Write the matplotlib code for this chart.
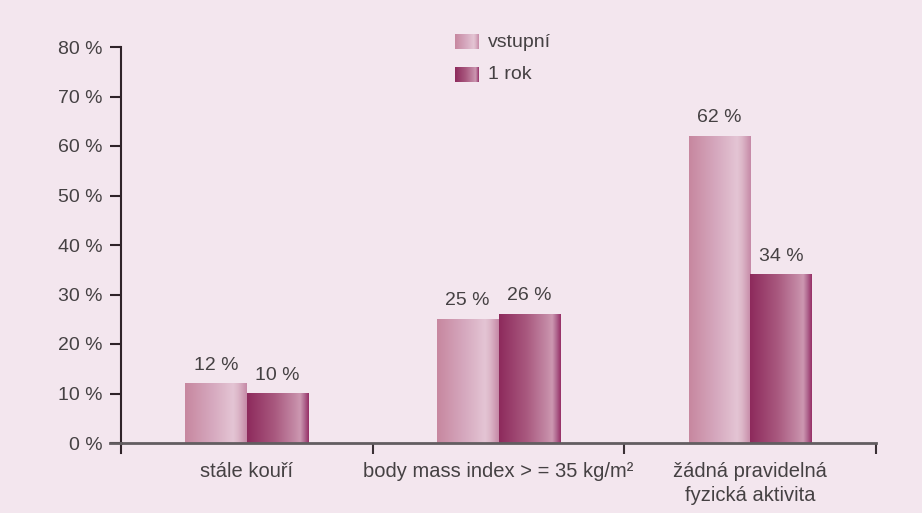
import numpy as np
import matplotlib.pyplot as plt
from matplotlib.colors import to_rgb

# data
categories = ['stále kouří', 'body mass index > = 35 kg/m²', 'žádná pravidelná\nfyzická aktivita']
series_names = ['vstupní', '1 rok']
vstupni = [12, 25, 62]
rok1 = [10, 26, 34]
y_ticks = [0, 10, 20, 30, 40, 50, 60, 70, 80]

BG = '#f3e6ee'
TXT = '#454143'
FS = 14

# gradient stops (position across bar, colour)
grad_light = [(0.0, '#c7879f'), (0.45, '#d6a9bf'), (0.78, '#e4c5d4'), (0.86, '#dcb6c8'), (1.0, '#c68aa7')]
grad_dark = [(0.0, '#8d2a5c'), (0.45, '#a9597f'), (0.78, '#c48aa6'), (0.86, '#cd98b1'), (0.93, '#b06890'), (1.0, '#962f66')]


def gradient(stops, n=200):
    pos = np.array([s[0] for s in stops])
    cols = np.array([to_rgb(s[1]) for s in stops])
    t = np.linspace(0, 1, n)
    rgb = np.stack([np.interp(t, pos, cols[:, i]) for i in range(3)], axis=-1)
    return rgb[np.newaxis, :, :]


def grad_bar(ax, x0, x1, y0, y1, stops, **kw):
    ax.imshow(gradient(stops), extent=(x0, x1, y0, y1), aspect='auto',
              interpolation='bilinear', zorder=2, **kw)


fig = plt.figure(figsize=(9.22, 5.13), dpi=100)
fig.patch.set_facecolor(BG)
plt.rcParams['font.family'] = ['Liberation Sans', 'DejaVu Sans']
ax = fig.add_axes([121 / 922, 1 - 443 / 513, (876 - 121) / 922, (443 - 47) / 513])
ax.set_facecolor(BG)

w = 0.245
for i, (a, b) in enumerate(zip(vstupni, rok1)):
    c = i + 0.5
    grad_bar(ax, c - w, c, 0, a, grad_light)
    grad_bar(ax, c, c + w, 0, b, grad_dark)
    ax.text(c - w / 2, a + 2.0, f'{a} %', ha='center', va='bottom', fontsize=FS, color=TXT)
    ax.text(c + w / 2, b + 2.0, f'{b} %', ha='center', va='bottom', fontsize=FS, color=TXT)

ax.set_xlim(0, 3)
ax.set_ylim(0, 80)

# axes styling
for s in ['top', 'right']:
    ax.spines[s].set_visible(False)
ax.spines['left'].set_color('#2f2329')
ax.spines['left'].set_linewidth(1.5)
ax.spines['left'].set_bounds(-2, 80)
ax.spines['bottom'].set_color('#625d60')
ax.spines['bottom'].set_linewidth(2)
ax.spines['bottom'].set_position(('data', 0))

ax.set_yticks(y_ticks)
ax.set_yticklabels([f'{t} %' for t in y_ticks], fontsize=FS, color=TXT)
ax.tick_params(axis='y', direction='out', length=8, width=1.5, color='#2f2329', pad=5)

ax.set_xticks([1, 2, 3])
ax.set_xticklabels([])
ax.tick_params(axis='x', direction='out', length=8, width=1.5, color='#3a3035')
ax.set_xticks([0.5, 1.5, 2.5], minor=True)
ax.set_xticklabels(categories, minor=True, fontsize=14.5, color=TXT, va='top', linespacing=1.3)
ax.tick_params(axis='x', which='minor', length=0, pad=14)

# y axis extends a little left of zero line
ax.plot([-0.045, 0], [0, 0], color='#625d60', lw=2, clip_on=False, zorder=3)

# legend drawn manually with gradient swatches
leg_y = [81.0, 74.5]
for name, stops, ly in zip(series_names, [grad_light, grad_dark], leg_y):
    grad_bar(ax, 1.327, 1.419, ly - 1.5, ly + 1.5, stops, clip_on=False)
    ax.text(1.458, ly, name, fontsize=FS, color=TXT, va='center', ha='left')

ax.set_xlim(0, 3)
ax.set_ylim(0, 80)

fig.savefig('out.png', dpi=100, facecolor=BG)
